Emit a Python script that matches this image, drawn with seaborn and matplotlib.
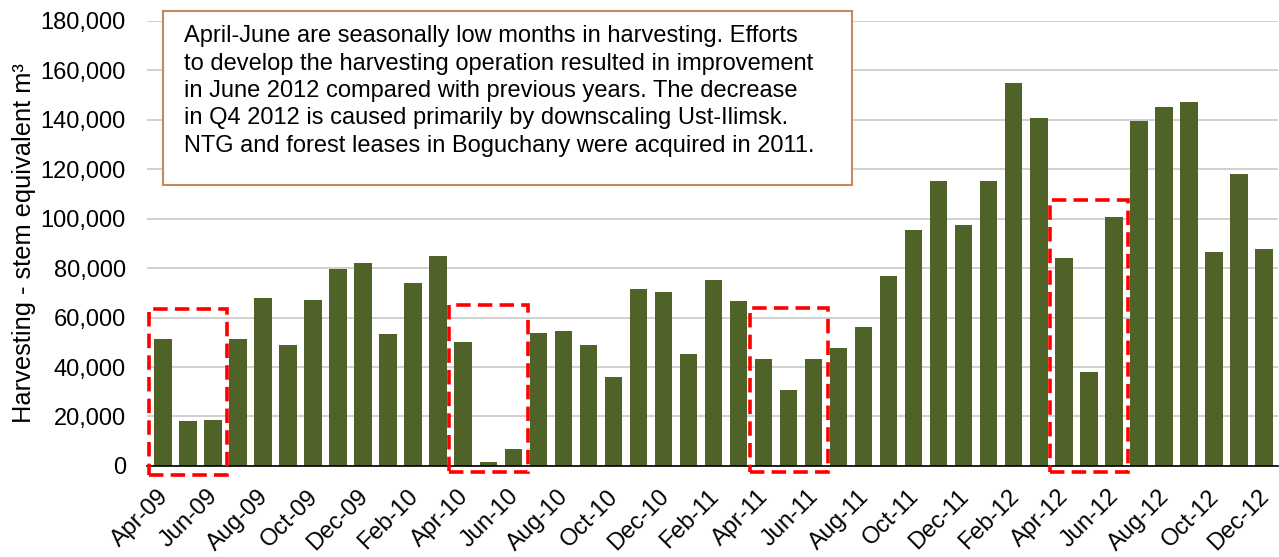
import matplotlib
matplotlib.use("Agg")
import matplotlib.pyplot as plt
import matplotlib.ticker as mticker
import matplotlib.transforms as mtransforms
from matplotlib.patches import Rectangle
import seaborn as sns
import pandas as pd

# ---- data ----
MONTHS = ["Apr-09", "May-09", "Jun-09", "Jul-09", "Aug-09", "Sep-09", "Oct-09", "Nov-09", "Dec-09",
          "Jan-10", "Feb-10", "Mar-10", "Apr-10", "May-10", "Jun-10", "Jul-10", "Aug-10", "Sep-10",
          "Oct-10", "Nov-10", "Dec-10", "Jan-11", "Feb-11", "Mar-11", "Apr-11", "May-11", "Jun-11",
          "Jul-11", "Aug-11", "Sep-11", "Oct-11", "Nov-11", "Dec-11", "Jan-12", "Feb-12", "Mar-12",
          "Apr-12", "May-12", "Jun-12", "Jul-12", "Aug-12", "Sep-12", "Oct-12", "Nov-12", "Dec-12"]
HARVEST = [51500, 18000, 18500, 51500, 67800, 48800, 67000, 79700, 82100,
           53300, 73800, 85000, 50300, 1700, 7000, 53700, 54700, 48800,
           35900, 71400, 70500, 45400, 75200, 66600, 43200, 30900, 43200,
           47500, 56300, 76800, 95200, 115200, 97500, 115200, 154800, 140800,
           83900, 37900, 100700, 139600, 145000, 147200, 86600, 117900, 87600]
# Apr-Jun windows highlighted with dashed frames: (first month, frame top)
HIGHLIGHTS = [("Apr-09", 63500), ("Apr-10", 65000), ("Apr-11", 64000), ("Apr-12", 107500)]
NOTE = ("April-June are seasonally low months in harvesting. Efforts\n"
        "to develop the harvesting operation resulted in improvement\n"
        "in June 2012 compared with previous years. The decrease\n"
        "in Q4 2012 is caused primarily by downscaling Ust-Ilimsk.\n"
        "NTG and forest leases in Boguchany were acquired in 2011.")

BAR_COLOR = "#4F6228"
NOTE_EDGE = "#C38A5E"

sns.set_theme(style="white")
plt.rcParams["font.family"] = ["Liberation Sans", "DejaVu Sans"]
plt.rcParams.update({"text.color": "black", "axes.labelcolor": "black",
                     "xtick.color": "black", "ytick.color": "black"})

df = pd.DataFrame({"month": MONTHS, "value": HARVEST})

fig = plt.figure(figsize=(12.79, 5.57), dpi=100)
ax = fig.add_axes([0.1147, 0.1634, 0.8843, 0.7996])

sns.barplot(data=df, x="month", y="value", color=BAR_COLOR, width=0.7,
            saturation=1, edgecolor="none", ax=ax)

ax.set_ylim(0, 180000)
ax.set_xlim(-0.65, len(MONTHS) - 0.45)
ax.yaxis.set_major_locator(mticker.MultipleLocator(20000))
ax.yaxis.set_major_formatter(mticker.FuncFormatter(lambda v, p: f"{int(v):,}"))
ax.grid(axis="y", color="#C8C8C8", linewidth=1.2)
ax.set_axisbelow(True)

for s in ["top", "right", "left"]:
    ax.spines[s].set_visible(False)
ax.spines["bottom"].set_color("black")
ax.spines["bottom"].set_linewidth(1.2)

ax.set_xticks(range(0, len(MONTHS), 2))
ax.set_xticklabels(MONTHS[::2], rotation=45, ha="right", rotation_mode="anchor",
                   fontsize=17)
ax.tick_params(axis="x", length=0, pad=14)
ax.tick_params(axis="y", length=0, pad=15, labelsize=17)
# nudge the slanted month labels a little to the left
shift = mtransforms.ScaledTranslation(-0.06, 0, fig.dpi_scale_trans)
for lbl in ax.get_xticklabels():
    lbl.set_transform(lbl.get_transform() + shift)
ax.set_xlabel("")
ax.set_ylabel("Harvesting - stem equivalent m³", fontsize=18.3, labelpad=3)

# dashed red frames around the April-June windows
for start, top in HIGHLIGHTS:
    i = MONTHS.index(start)
    bottom = -3500 if i == 0 else -2300
    ax.add_patch(Rectangle((i - 0.55, bottom), 3.12, top - bottom, fill=False,
                           edgecolor="red", linewidth=2.6,
                           linestyle=(0, (4, 2)), clip_on=False, zorder=4))

# explanatory note
ax.add_patch(Rectangle((0.0147, 0.6316), 0.6089, 0.389, transform=ax.transAxes,
                       facecolor="white", edgecolor=NOTE_EDGE, linewidth=1.5,
                       clip_on=False, zorder=5))
ax.text(0.0332, 0.842, NOTE, transform=ax.transAxes, fontsize=17, va="center",
        ha="left", linespacing=1.31, zorder=6)

fig.savefig("out.png", dpi=100)
